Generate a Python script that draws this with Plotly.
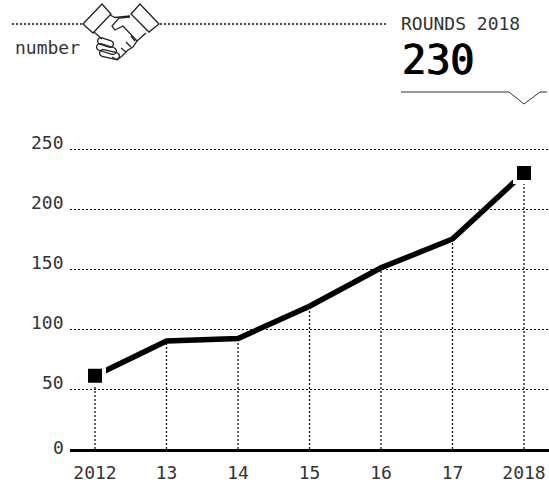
#!/usr/bin/env python3
"""Rounds per year, dotted line chart with a small header."""

import math

import plotly.graph_objects as go

WIDTH = 549
HEIGHT = 483
FONT = "DejaVu Sans Mono"

years = ["2012", "13", "14", "15", "16", "17", "2018"]
rounds = [61, 90, 92, 119, 151, 175, 230]
y_ticks = [0, 50, 100, 150, 200, 250]

# the axis runs on to 260 so plotly still draws the gridline at 250
LEFT, RIGHT, TOP, BOTTOM = 70, 0, 137, 34


def paper(x, y):
    return (x - LEFT) / (WIDTH - LEFT - RIGHT), (HEIGHT - BOTTOM - y) / (HEIGHT - TOP - BOTTOM)


def path(points, close=False):
    out = []
    for i, (x, y) in enumerate(points):
        px, py = paper(x, y)
        out.append(f"{'M' if i == 0 else 'L'}{px:.4f},{py:.4f}")
    return " ".join(out) + (" Z" if close else "")


def outline(points, close=False, color="#222", width=1.3, dash="solid"):
    return dict(type="path", xref="paper", yref="paper", path=path(points, close),
                line=dict(color=color, width=width, dash=dash), layer="above")


def capsule(x0, y0, x1, y1, r=3.4):
    # rounded finger of the handshake icon
    a = math.atan2(y1 - y0, x1 - x0)
    pts = []
    for i in range(9):
        t = a + math.pi / 2 + math.pi * i / 8
        pts.append((x0 + r * math.cos(t), y0 + r * math.sin(t)))
    for i in range(9):
        t = a - math.pi / 2 + math.pi * i / 8
        pts.append((x1 + r * math.cos(t), y1 + r * math.sin(t)))
    return outline(pts, close=True)


fig = go.Figure()

# drop lines from the axis up to each value
drop_x, drop_y = [], []
for year, value in zip(years, rounds):
    drop_x += [year, year, None]
    drop_y += [0, value, None]
fig.add_trace(go.Scatter(x=drop_x, y=drop_y, mode="lines", hoverinfo="skip",
                         line=dict(color="#111", width=1.3, dash="2px,2px")))

fig.add_trace(go.Scatter(x=years, y=rounds, mode="lines",
                         line=dict(color="#000", width=5.5)))

# only first and last points get a square
fig.add_trace(go.Scatter(x=[years[0], years[-1]], y=[rounds[0], rounds[-1]], mode="markers",
                         marker=dict(symbol="square", size=18, color="#000",
                                     line=dict(color="#fff", width=4))))

shapes = [
    outline([(12, 24), (83, 24)], color="#111", dash="2px,2px"),
    outline([(160, 24), (387, 24)], color="#111", dash="2px,2px"),
    outline([(401, 92), (509, 92), (524, 104), (540, 92), (547, 92)], color="#333", width=1),
    # handshake icon
    outline([(83, 24), (102, 4), (111, 14), (93, 33)], close=True),
    outline([(131, 14), (140, 4), (159, 24), (149, 32)], close=True),
    outline([(110, 15), (115, 17.5), (130, 16)]),
    outline([(130, 17), (119, 18), (112, 26), (115, 30), (123, 26), (137, 41)]),
    outline([(146, 33), (137, 41), (133, 47), (128, 50), (122, 56), (117, 60), (112, 57)]),
    outline([(94, 32), (102, 39)]),
    outline([(131, 36), (135, 41)]),
    outline([(126, 42), (131, 47)]),
    outline([(121, 48), (126, 52)]),
    capsule(101, 41, 110, 44),
    capsule(100, 47, 113, 51),
    capsule(103, 53, 116, 56),
]
fig.update_layout(shapes=shapes)

annotations = [
    dict(text="number", x=16, y=48, size=18, color="#333", shadow="none"),
    dict(text="ROUNDS 2018", x=402, y=24, size=18, color="#333", shadow="none"),
    dict(text="230", x=403, y=60, size=40, color="#000", shadow="0.8px 0 0 #000, -0.4px 0 0 #000"),
]
for a in annotations:
    ax, ay = paper(a["x"], a["y"])
    fig.add_annotation(x=ax, y=ay, xref="paper", yref="paper", text=a["text"], showarrow=False,
                       xanchor="left", yanchor="middle", xshift=-3,
                       font=dict(family=FONT, size=a["size"], color=a["color"], shadow=a["shadow"]))

# y labels sit just above their gridlines, except the 0 on the axis
for value in y_ticks:
    fig.add_annotation(x=paper(66, 0)[0], y=value, xref="paper", yref="y", text=str(value),
                       showarrow=False, xanchor="right", yanchor="middle",
                       yshift=2 if value == 0 else 7,
                       font=dict(family=FONT, size=18, color="#333"))

fig.update_layout(
    width=WIDTH,
    height=HEIGHT,
    margin=dict(l=LEFT, r=RIGHT, t=TOP, b=BOTTOM, pad=0),
    paper_bgcolor="#fff",
    plot_bgcolor="#fff",
    showlegend=False,
    font=dict(family=FONT, size=18, color="#333"),
)
fig.update_xaxes(type="category", categoryorder="array", categoryarray=years,
                 range=[-0.35, 6.35], showgrid=False, ticks="", zeroline=False,
                 showline=True, linecolor="#000", linewidth=3, ticklabelstandoff=5)
fig.update_yaxes(range=[0, 260], tickvals=y_ticks, gridcolor="#111", griddash="2px,2px",
                 gridwidth=1.3, zeroline=False, showline=False, ticks="", showticklabels=False)

# the page's default body margin would push the chart 8px off the window
fig.write_html("out.html", config={"displayModeBar": False},
               post_script="document.body.style.margin = '0';")
